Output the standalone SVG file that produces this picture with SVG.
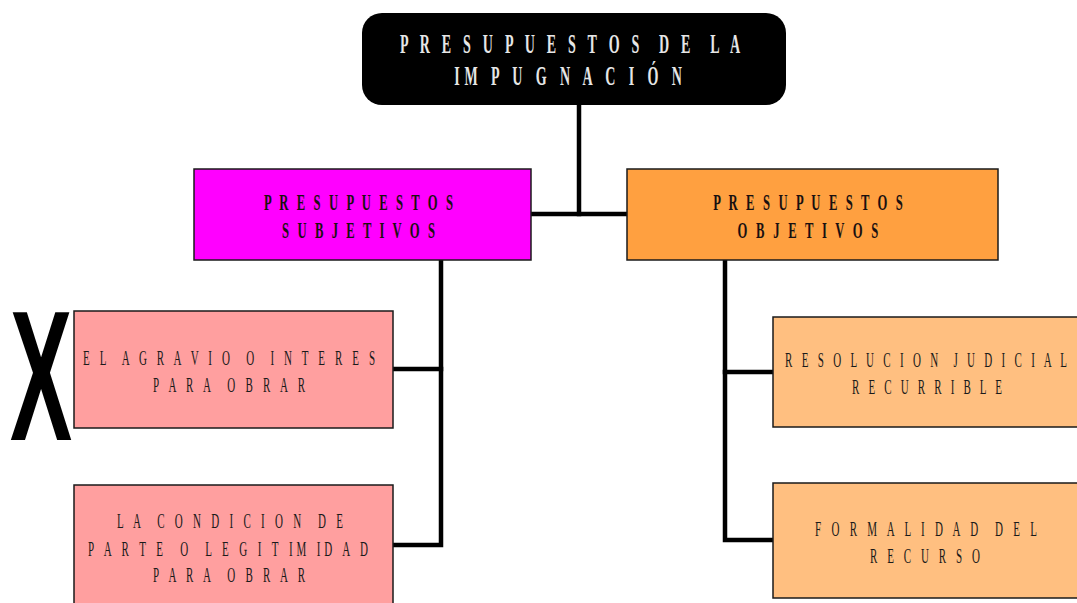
<svg xmlns="http://www.w3.org/2000/svg" width="1077" height="603" viewBox="0 0 1077 603">
  <style>
    .box { stroke: #1a1a1a; stroke-width: 1.5; }
    .lbl { font-family: "Liberation Serif", "Times New Roman", serif; text-anchor: middle; white-space: pre; }
    .title { fill: #e6e6e6; font-weight: bold; font-size: 27px; }
    .head { fill: #1a1010; font-weight: bold; font-size: 23px; }
    .item { fill: #1a1a1a; font-size: 22px; }
    .wire { stroke: #000; stroke-width: 4.5; fill: none; stroke-linecap: square; stroke-linejoin: miter; }
  </style>

  <rect width="1077" height="603" fill="#ffffff"/>

  <!-- connectors -->
  <g id="connectors">
    <path class="wire" d="M579,106 V214"/>
    <path class="wire" d="M532,214 H626"/>
    <path class="wire" d="M441,261 V545 H394"/>
    <path class="wire" d="M394,369 H441"/>
    <path class="wire" d="M725,261 V540 H772"/>
    <path class="wire" d="M725,372 H772"/>
  </g>

  <!-- root -->
  <g id="root">
    <rect x="362" y="13" width="424" height="92" rx="20" fill="#000"/>
    <g transform="translate(570,0) scale(0.52,1)">
      <text class="lbl title" x="0" y="53" textLength="654" lengthAdjust="spacing" xml:space="preserve">P R E S U P U E S T O S  D E  L A</text>
    </g>
    <g transform="translate(568,0) scale(0.52,1)">
      <text class="lbl title" x="0" y="85" textLength="438" lengthAdjust="spacing" xml:space="preserve">IM P U G N A C I Ó N</text>
    </g>
  </g>

  <!-- subjective branch header -->
  <g id="subjetivos">
    <rect class="box" x="194" y="169" width="337" height="91" fill="#ff00ff"/>
    <g transform="translate(358.5,0) scale(0.55,1)">
      <text class="lbl head" x="0" y="210" textLength="344" lengthAdjust="spacing">P R E S U P U E S T O S</text>
      <text class="lbl head" x="0" y="238" textLength="278" lengthAdjust="spacing">S U B J E T I V O S</text>
    </g>
  </g>

  <!-- objective branch header -->
  <g id="objetivos">
    <rect class="box" x="627" y="169" width="371" height="91" fill="#ffa040"/>
    <g transform="translate(808,0) scale(0.55,1)">
      <text class="lbl head" x="0" y="210" textLength="345" lengthAdjust="spacing">P R E S U P U E S T O S</text>
      <text class="lbl head" x="0" y="238" textLength="256" lengthAdjust="spacing">O B J E T I V O S</text>
    </g>
  </g>

  <!-- mark beside the first subjective item -->
  <g id="mark">
    <text x="0" y="440" transform="translate(41,0) scale(0.5,1)" text-anchor="middle" font-family="Liberation Sans, Arial, sans-serif" font-weight="bold" font-size="186" fill="#000">X</text>
  </g>

  <g id="agravio">
    <rect class="box" x="74" y="311" width="319" height="117" fill="#ff9f9f"/>
    <g transform="translate(229,0) scale(0.5,1)">
      <text class="lbl item" x="0" y="365" textLength="584" lengthAdjust="spacing" xml:space="preserve">E L  A G R A V I O  O  I N T E R E S</text>
      <text class="lbl item" x="0" y="392" textLength="304" lengthAdjust="spacing" xml:space="preserve">P A R A  O B R A R</text>
    </g>
  </g>

  <g id="condicion">
    <rect class="box" x="74" y="485" width="319" height="130" fill="#ff9f9f"/>
    <g transform="translate(230,0) scale(0.5,1)">
      <text class="lbl item" x="0" y="528" textLength="452" lengthAdjust="spacing" xml:space="preserve">L A  C O N D I C I O N  D E</text>
      <text class="lbl item" x="-4" y="556" textLength="560" lengthAdjust="spacing" xml:space="preserve">P A R T E  O  L E G I T IM ID A D</text>
      <text class="lbl item" x="-2" y="582" textLength="304" lengthAdjust="spacing" xml:space="preserve">P A R A  O B R A R</text>
    </g>
  </g>

  <g id="resolucion">
    <rect class="box" x="773" y="317" width="320" height="110" fill="#ffbf80"/>
    <g transform="translate(926,0) scale(0.5,1)">
      <text class="lbl item" x="0" y="367" textLength="564" lengthAdjust="spacing" xml:space="preserve">R E S O L U C I O N  J U D I C I A L</text>
      <text class="lbl item" x="2" y="394" textLength="300" lengthAdjust="spacing" xml:space="preserve">R E C U R R I B L E</text>
    </g>
  </g>

  <g id="formalidad">
    <rect class="box" x="773" y="483" width="320" height="115" fill="#ffbf80"/>
    <g transform="translate(926,0) scale(0.5,1)">
      <text class="lbl item" x="0" y="536" textLength="444" lengthAdjust="spacing" xml:space="preserve">F O R M A L I D A D  D E L</text>
      <text class="lbl item" x="-2" y="563" textLength="220" lengthAdjust="spacing" xml:space="preserve">R E C U R S O</text>
    </g>
  </g>
</svg>
